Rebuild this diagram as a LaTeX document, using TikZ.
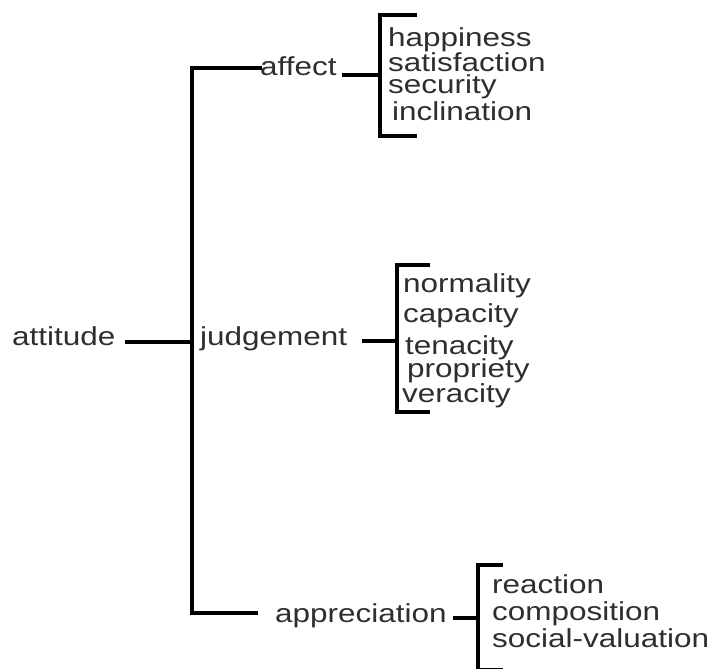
\documentclass[tikz,border=0pt]{standalone}
\usepackage{fontspec}
\setmainfont{Liberation Sans}[FakeStretch=1.21]
\begin{document}
\begin{tikzpicture}[x=1pt,y=-1pt,
  lbl/.style={anchor=base west, inner sep=0pt, text=black!82, font=\fontsize{26}{30}\selectfont},
  ln/.style={line width=3.4pt, draw=black, line cap=butt, line join=miter}]
\useasboundingbox (0,0) rectangle (712,669);
% labels
\node[lbl] (attitude) at (12,345) {attitude};
\node[lbl] (affect) at (260,76) {affect};
\node[lbl] (judgement) at (200,345) {judgement};
\node[lbl] (appreciation) at (275,622) {appreciation};
\node[lbl] (happiness) at (388,47) {happiness};
\node[lbl] (satisfaction) at (388,72) {satisfaction};
\node[lbl] (security) at (388,93) {security};
\node[lbl] (inclination) at (392,120) {inclination};
\node[lbl] (normality) at (403,292) {normality};
\node[lbl] (capacity) at (403,322) {capacity};
\node[lbl] (tenacity) at (405,354) {tenacity};
\node[lbl] (propriety) at (407,377) {propriety};
\node[lbl] (veracity) at (402,402) {veracity};
\node[lbl] (reaction) at (492,593) {reaction};
\node[lbl] (composition) at (492,620) {composition};
\node[lbl] (socval) at (492,647) {social-valuation};
% tree coordinates
\coordinate (trunkTop) at (192,68);
\coordinate (trunkBot) at (192,613);
\coordinate (trunkMid) at (192,342);
\coordinate (affEnd) at (262,68);
\coordinate (appEnd) at (258,613);
\coordinate (attEnd) at (125,342);
% trunk
\draw[ln] (affEnd) -- (trunkTop) -- (trunkBot) -- (appEnd);
\draw[ln] (attEnd) -- (trunkMid);
% affect bracket
\coordinate (affA) at (417,15);
\coordinate (affB) at (380,15);
\coordinate (affC) at (380,136);
\coordinate (affD) at (417,136);
\coordinate (affJ) at (380,75);
\coordinate (affS) at (342,75);
\draw[ln] (affA) -- (affB) -- (affC) -- (affD);
\draw[ln] (affS) -- (affJ);
% judgement bracket
\coordinate (judA) at (430,265);
\coordinate (judB) at (397,265);
\coordinate (judC) at (397,412);
\coordinate (judD) at (430,412);
\coordinate (judJ) at (397,341);
\coordinate (judS) at (362,341);
\draw[ln] (judA) -- (judB) -- (judC) -- (judD);
\draw[ln] (judS) -- (judJ);
% appreciation bracket
\coordinate (appA) at (503,565);
\coordinate (appB) at (478,565);
\coordinate (appC) at (478,670);
\coordinate (appD) at (503,670);
\coordinate (appJ) at (478,618);
\coordinate (appS) at (453,618);
\draw[ln] (appA) -- (appB) -- (appC) -- (appD);
\draw[ln] (appS) -- (appJ);
\end{tikzpicture}
\end{document}
